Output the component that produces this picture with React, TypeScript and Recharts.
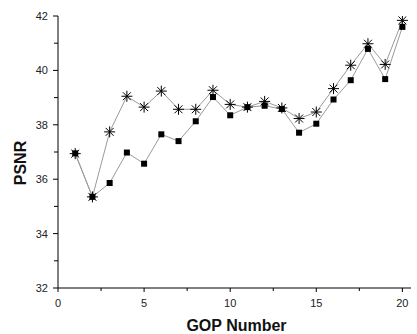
import { LineChart, Line, XAxis, YAxis, Label } from 'recharts'

const gop = [1, 2, 3, 4, 5, 6, 7, 8, 9, 10, 11, 12, 13, 14, 15, 16, 17, 18, 19, 20]
const psnrStar = [36.94, 35.35, 37.74, 39.05, 38.65, 39.24, 38.57, 38.57, 39.27, 38.75, 38.65, 38.86, 38.62, 38.23, 38.47, 39.33, 40.19, 40.98, 40.22, 41.84]
const psnrSquare = [36.95, 35.35, 35.86, 36.98, 36.57, 37.65, 37.4, 38.13, 39.02, 38.35, 38.65, 38.7, 38.58, 37.71, 38.04, 38.93, 39.64, 40.79, 39.68, 41.6]
const xTicks = [0, 2.5, 5, 7.5, 10, 12.5, 15, 17.5, 20]
const yTicks = [32, 33, 34, 35, 36, 37, 38, 39, 40, 41, 42]

const data = gop.map((g, i) => ({ gop: g, star: psnrStar[i], square: psnrSquare[i] }))

const font = '"Liberation Sans", Arial, sans-serif'

function XTick({ x, y, payload }: any) {
  const major = payload.value % 5 === 0
  return (
    <g>
      <line x1={x} y1={y} x2={x} y2={y + (major ? 4 : 3)} stroke="#000" />
      {major && (
        <text x={x} y={y + 19} textAnchor="middle" fontSize={11} fill="#222" fontFamily={font}>
          {payload.value}
        </text>
      )}
    </g>
  )
}

function YTick({ x, y, payload }: any) {
  const major = payload.value % 2 === 0
  return (
    <g>
      <line x1={x} y1={y} x2={x - (major ? 5 : 4)} y2={y} stroke="#000" />
      {major && (
        <text x={x - 10} y={y + 4} textAnchor="end" fontSize={11} fill="#222" fontFamily={font}>
          {payload.value}
        </text>
      )}
    </g>
  )
}

function StarDot({ cx, cy }: any) {
  const r = 5.5
  const d = r * 0.72
  return (
    <g stroke="#000" strokeWidth={1}>
      <line x1={cx - r} y1={cy} x2={cx + r} y2={cy} />
      <line x1={cx} y1={cy - r} x2={cx} y2={cy + r} />
      <line x1={cx - d} y1={cy - d} x2={cx + d} y2={cy + d} />
      <line x1={cx - d} y1={cy + d} x2={cx + d} y2={cy - d} />
    </g>
  )
}

function SquareDot({ cx, cy }: any) {
  return <rect x={cx - 3} y={cy - 3} width={6} height={6} fill="#000" />
}

// y title sits a bit below the plot's middle, as in the original
function YTitle({ viewBox }: any) {
  const cx = 20.5
  const cy = viewBox.y + viewBox.height / 2 + 11
  return (
    <text x={cx} y={cy} transform={`rotate(-90 ${cx} ${cy})`} textAnchor="middle" dominantBaseline="central" fontFamily={font} fontWeight="bold" fontSize={16} fill="#111">
      PSNR
    </text>
  )
}

function XTitle({ viewBox }: any) {
  const cx = viewBox.x + viewBox.width / 2 + 2
  return (
    <text x={cx} y={331} textAnchor="middle" fontFamily={font} fontWeight="bold" fontSize={16} fill="#111">
      GOP Number
    </text>
  )
}

export default function App() {
  return (
    <div>
      <style>{'body{margin:0;background:#fff}'}</style>
      <LineChart width={417} height={334} data={data} margin={{ top: 16, right: 6, left: 0, bottom: 0 }}>
        <XAxis
          dataKey="gop"
          type="number"
          domain={[0, 20.5]}
          ticks={xTicks}
          interval={0}
          height={46}
          tickSize={0}
          tickMargin={0}
          tickLine={false}
          tick={<XTick />}
          stroke="#000"
          allowDataOverflow
        >
          <Label content={<XTitle />} />
        </XAxis>
        <YAxis
          type="number"
          domain={[32, 42]}
          ticks={yTicks}
          interval={0}
          width={58}
          tickSize={0}
          tickMargin={0}
          tickLine={false}
          tick={<YTick />}
          stroke="#000"
          allowDataOverflow
        >
          <Label content={<YTitle />} />
        </YAxis>
        <Line dataKey="star" stroke="#9a9a9a" strokeWidth={1} dot={<StarDot />} isAnimationActive={false} />
        <Line dataKey="square" stroke="#9a9a9a" strokeWidth={1} dot={<SquareDot />} isAnimationActive={false} />
      </LineChart>
    </div>
  )
}
